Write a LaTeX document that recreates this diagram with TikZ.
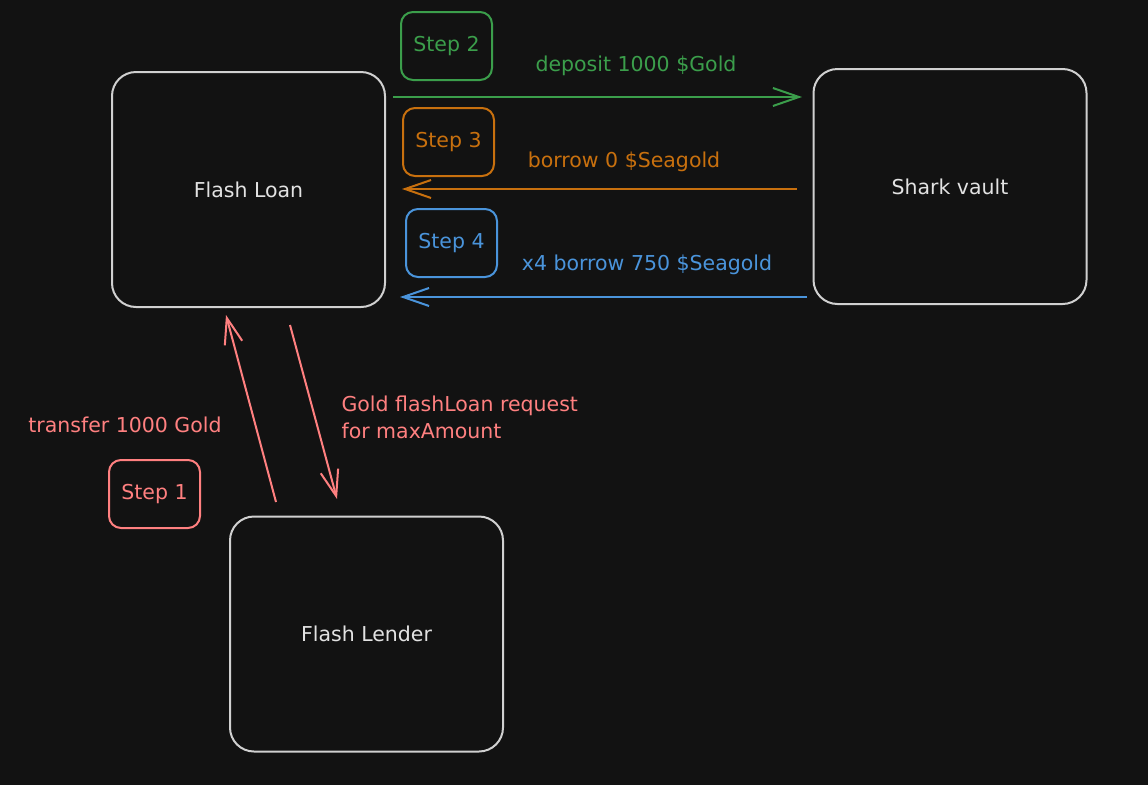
\documentclass[tikz,border=0pt]{standalone}
\usepackage{fontspec}
\setmainfont{DejaVu Sans}
\usetikzlibrary{arrows.meta}
\definecolor{bg}{HTML}{121212}
\definecolor{boxgray}{HTML}{D0D0D0}
\definecolor{textgray}{HTML}{E2E2E2}
\definecolor{stepgreen}{HTML}{3B9E4B}
\definecolor{steporange}{HTML}{C8700E}
\definecolor{stepblue}{HTML}{4A94DB}
\definecolor{stepred}{HTML}{FF8080}
\begin{document}
\begin{tikzpicture}[x=1pt,y=-1pt]
\tikzstyle{every node}=[font=\fontsize{20.5}{27}\selectfont];
\tikzstyle{block}=[draw=boxgray,line width=2pt,rounded corners=24pt,minimum width=273pt,minimum height=235pt,text=textgray];
\tikzstyle{stepbox}=[draw,line width=2pt,rounded corners=12pt,minimum width=91pt,minimum height=68pt];
\tikzstyle{flow}=[line width=2pt,-{Straight Barb[length=26pt,width=18pt]}];
\fill[bg] (0,0) rectangle (1148,785);
\node[block] (loan) at (248.5,189.5) {Flash Loan};
\node[block] (vault) at (950,186.5) {Shark vault};
\node[block] (lender) at (366.5,634) {Flash Lender};
\node[stepbox,stepgreen] (s2) at (446.5,46) {Step 2};
\node[stepbox,steporange] (s3) at (448.5,142) {Step 3};
\node[stepbox,stepblue] (s4) at (451.5,243) {Step 4};
\node[stepbox,stepred] (s1) at (154.5,494) {Step 1};
\node[stepgreen] (deposit) at (636,66) {deposit 1000 \$Gold};
\node[steporange] (borrow) at (624,162) {borrow 0 \$Seagold};
\node[stepblue] (borrowx) at (647,265) {x4 borrow 750 \$Seagold};
\node[stepred] (transfer) at (125,425) {transfer 1000 Gold};
\node[stepred,align=left,anchor=west] (request) at (338,417) {Gold flashLoan request\\for maxAmount};
\coordinate (g1) at (393,97);
\coordinate (g2) at (802,97);
\coordinate (o1) at (797,189);
\coordinate (o2) at (402,189);
\coordinate (b1) at (807,297);
\coordinate (b2) at (400,297);
\coordinate (r1) at (276,502);
\coordinate (r2) at (226,315);
\coordinate (r3) at (290,325);
\coordinate (r4) at (337,499);
\draw[flow,stepgreen] (g1) -- (g2);
\draw[flow,steporange] (o1) -- (o2);
\draw[flow,stepblue] (b1) -- (b2);
\draw[flow,stepred] (r1) -- (r2);
\draw[flow,stepred] (r3) -- (r4);
\end{tikzpicture}
\end{document}
